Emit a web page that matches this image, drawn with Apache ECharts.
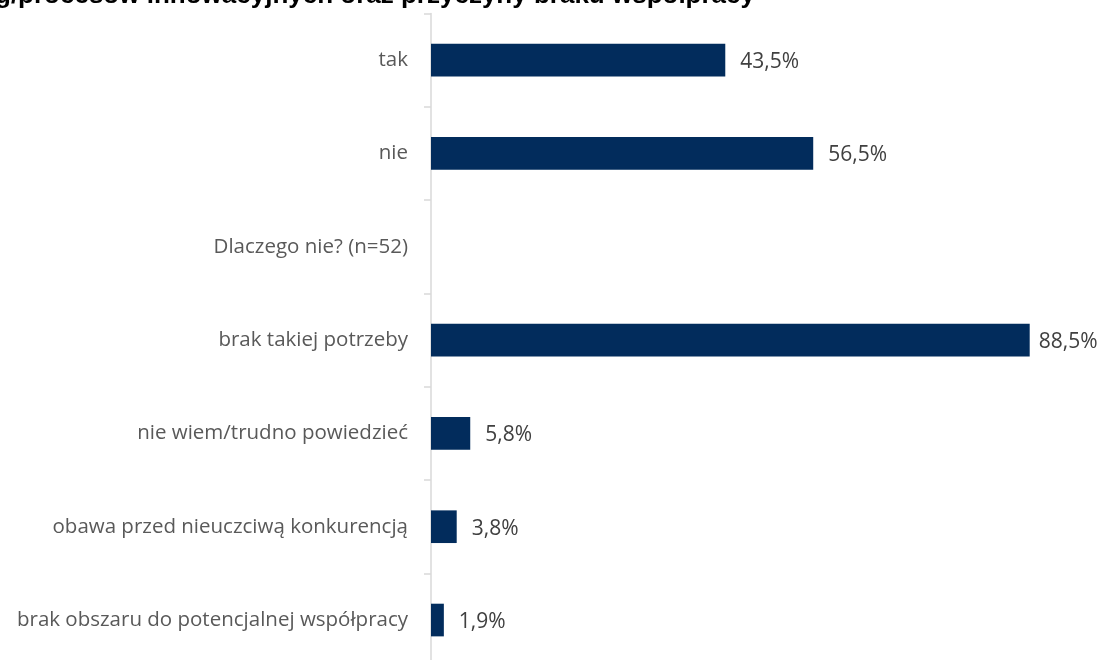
<!DOCTYPE html>
<html>
<head>
<meta charset="utf-8">
<script src="https://cdn.jsdelivr.net/npm/echarts@6/dist/echarts.min.js"></script>
<style>
html,body{margin:0;padding:0;background:#fff;}
#chart{width:1100px;height:660px;}
</style>
</head>
<body>
<div id="chart"></div>
<script>
const titleText = 'Współpraca w zakresie rozwoju produktów/usług/procesów innowacyjnych oraz przyczyny braku współpracy';
const categories = [
  'tak',
  'nie',
  'Dlaczego nie? (n=52)',
  'brak takiej potrzeby',
  'nie wiem/trudno powiedzieć',
  'obawa przed nieuczciwą konkurencją',
  'brak obszaru do potencjalnej współpracy'
];
const values = [43.5, 56.5, null, 88.5, 5.8, 3.8, 1.9];

// labels near the right edge are pulled closer to the bar so they stay inside the chart
const seriesData = values.map(v => ({
  value: v,
  label: {distance: v != null && v > 85 ? 9 : 15}
}));

const chart = echarts.init(document.getElementById('chart'), null, {renderer: 'canvas'});
chart.setOption({
  animation: false,
  backgroundColor: '#ffffff',
  graphic: [{
    type: 'text',
    right: 345,
    top: -17,
    style: {
      text: titleText,
      font: 'bold 26px "Liberation Sans", Arial, sans-serif',
      fill: '#000000'
    }
  }],
  grid: {left: 431, top: 13.4, width: 676.5, height: 653.3, outerBoundsMode: 'none', containLabel: false},
  xAxis: {
    type: 'value', min: 0, max: 100,
    show: false
  },
  yAxis: {
    type: 'category',
    data: categories,
    inverse: true,
    axisLine: {show: true, lineStyle: {color: '#d9d9d9', width: 1.5}},
    axisTick: {show: true, length: 7, lineStyle: {color: '#d9d9d9', width: 1.5}},
    axisLabel: {
      margin: 23,
      color: '#595959',
      fontFamily: '"Open Sans", sans-serif',
      fontSize: 20.5,
      padding: [5, 0, 0, 0]
    },
    splitLine: {show: false}
  },
  series: [{
    type: 'bar',
    data: seriesData,
    barWidth: '35%',
    itemStyle: {color: '#022c5c'},
    label: {
      show: true,
      position: 'right',
      offset: [0, 2],
      color: '#404040',
      fontFamily: '"Open Sans", sans-serif',
      fontSize: 21,
      formatter: p => p.value == null ? '' : p.value.toFixed(1).replace('.', ',') + '%'
    }
  }]
});
</script>
</body>
</html>
